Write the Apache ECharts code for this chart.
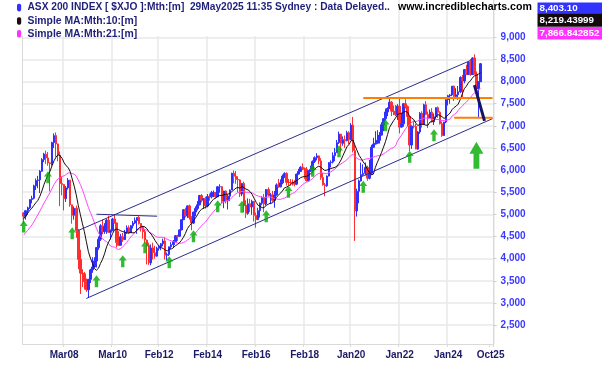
<!DOCTYPE html>
<html><head><meta charset="utf-8">
<script src="https://cdn.jsdelivr.net/npm/echarts@6/dist/echarts.min.js"></script>
<style>html,body{margin:0;padding:0;background:#fff}#c{width:602px;height:365px}</style>
</head><body><div id="c"></div>
<script>
// Monthly OHLC rows [open, high, low, close], ASX 200 ($XJO)
const y2006 = [[5033,5050,4790,4960],[4960,5100,4880,5082],[5082,5175,4990,5147],[5147,5340,5120,5336],[5336,5420,5250,5363],[5363,5670,5340,5644]];
const y2007 = [[5644,5810,5550,5763],[5763,5870,5590,5779],[5779,6000,5480,5975],[5975,6270,5960,6238],[6238,6390,6180,6360],[6360,6440,6140,6274],[6274,6410,6100,6164],[6164,6180,5520,6149],[6149,6640,6100,6624],[6624,6830,6500,6779],[6779,6851,6300,6591],[6591,6600,6200,6339]];
const y2008 = [[6339,6420,5186,5697],[5697,5850,5430,5673],[5673,5680,5090,5355],[5355,5640,5280,5598],[5598,5820,5560,5773],[5773,5780,5170,5215],[5215,5220,4790,4979],[4979,5180,4880,5138],[5138,5200,4470,4631],[4631,4670,3760,3983],[3983,4200,3201,3672],[3672,3760,3360,3659]];
const y2009 = [[3659,3700,3300,3478],[3478,3550,3250,3296],[3296,3540,3121,3532],[3532,3770,3450,3745],[3745,4030,3680,3813],[3813,4030,3800,3947],[3947,4250,3800,4249],[4249,4500,4200,4439],[4439,4780,4400,4740],[4740,4880,4550,4612],[4612,4800,4560,4715],[4715,4900,4560,4870]];
const y2010 = [[4870,4970,4590,4596],[4596,4660,4430,4631],[4631,4920,4630,4893],[4893,5000,4790,4807],[4807,4810,4250,4367],[4367,4620,4300,4301],[4301,4560,4300,4493],[4493,4580,4380,4428],[4428,4650,4420,4598],[4598,4750,4560,4697],[4697,4750,4560,4584],[4584,4760,4580,4745]];
const y2011 = [[4745,4850,4680,4803],[4803,4930,4780,4862],[4862,4930,4560,4929],[4929,4980,4770,4791],[4791,4800,4610,4706],[4706,4740,4450,4608],[4608,4660,4350,4419],[4419,4430,3870,4297],[4297,4360,3860,3903],[3903,4320,3850,4242],[4242,4360,3980,4132],[4132,4290,4000,4057]];
const y2012 = [[4057,4270,4040,4233],[4233,4300,4180,4269],[4269,4350,4190,4335],[4335,4450,4280,4396],[4396,4480,3980,4077],[4077,4140,3960,4095],[4095,4270,4060,4268],[4268,4370,4220,4316],[4316,4420,4240,4387],[4387,4530,4370,4517],[4517,4540,4400,4506],[4506,4660,4490,4649]];
const y2013 = [[4649,4880,4640,4879],[4879,5120,4870,5104],[5104,5150,4930,4967],[4967,5200,4920,5191],[5191,5220,4880,4926],[4926,4960,4640,4803],[4803,5060,4780,5052],[5052,5180,4960,5135],[5135,5300,5090,5218],[5218,5440,5200,5426],[5426,5460,5270,5321],[5321,5370,5120,5352]];
const y2014 = [[5352,5400,5130,5190],[5190,5460,5160,5404],[5404,5470,5310,5395],[5395,5530,5360,5489],[5489,5540,5390,5492],[5492,5500,5360,5396],[5396,5640,5390,5623],[5623,5680,5490,5625],[5625,5640,5250,5292],[5292,5530,5140,5527],[5527,5540,5250,5313],[5313,5450,5110,5411]];
const y2015 = [[5411,5560,5300,5551],[5551,5940,5550,5929],[5929,5990,5700,5861],[5861,5980,5690,5790],[5790,5860,5500,5777],[5777,5790,5390,5459],[5459,5710,5410,5699],[5699,5740,5050,5207],[5207,5320,4920,5021],[5021,5360,4990,5239],[5239,5350,5050,5166],[5166,5330,4990,5296]];
const y2016 = [[5296,5300,4840,4977],[4977,5040,4700,4881],[4881,5150,4870,5083],[5083,5270,4930,5252],[5252,5410,5210,5378],[5378,5460,5050,5233],[5233,5570,5200,5562],[5562,5610,5400,5433],[5433,5480,5230,5436],[5436,5530,5280,5317],[5317,5530,5150,5440],[5440,5700,5420,5665]];
const y2017 = [[5665,5800,5600,5621],[5621,5790,5610,5712],[5712,5900,5680,5864],[5864,5950,5820,5924],[5924,5950,5650,5724],[5724,5800,5650,5721],[5721,5800,5650,5720],[5720,5790,5650,5715],[5715,5770,5630,5682],[5682,5920,5660,5909],[5909,6030,5900,5970],[5970,6090,5960,6065]];
const y2018 = [[6065,6150,6000,6037],[6037,6060,5800,6016],[6016,6070,5740,5759],[5759,6000,5740,5982],[5982,6100,5960,6012],[6012,6220,5960,6195],[6195,6310,6160,6280],[6280,6380,6220,6320],[6320,6330,6130,6208],[6208,6270,5780,5830],[5830,5940,5650,5667],[5667,5710,5410,5646]];
const y2019 = [[5646,5880,5620,5865],[5865,6180,5860,6169],[6169,6220,6060,6181],[6181,6400,6150,6326],[6326,6500,6200,6396],[6396,6680,6390,6619],[6619,6870,6590,6813],[6813,6820,6400,6604],[6604,6760,6550,6688],[6688,6780,6500,6663],[6663,6890,6650,6846],[6846,6880,6580,6684]];
const y2020 = [[6684,7060,6680,7017],[7017,7200,6400,6441],[6441,6560,4400,5077],[5077,5580,4950,5522],[5522,5790,5250,5756],[5756,6170,5740,5898],[5898,6130,5870,5928],[5928,6170,5880,6061],[6061,6100,5760,5816],[5816,6230,5790,5928],[5928,6570,5890,6517],[6517,6730,6510,6587]];
const y2021 = [[6587,6880,6580,6607],[6607,6900,6600,6673],[6673,6860,6600,6791],[6791,7080,6780,7025],[7025,7170,6880,7162],[7162,7390,7120,7313],[7313,7420,7220,7393],[7393,7630,7380,7535],[7535,7560,7220,7332],[7332,7460,7240,7324],[7324,7470,7220,7256],[7256,7490,7130,7445]];
const y2022 = [[7445,7630,6830,6971],[6971,7300,6960,7049],[7049,7510,6980,7499],[7499,7600,7390,7435],[7435,7460,6990,7211],[7211,7220,6430,6568],[6568,7010,6480,6993],[6993,7120,6940,6987],[6987,7040,6470,6474],[6474,6880,6460,6863],[6863,7310,6820,7284],[7284,7330,6960,7038]];
const y2023 = [[7038,7500,7030,7476],[7476,7560,7240,7258],[7258,7320,6950,7178],[7178,7370,7170,7309],[7309,7400,7080,7091],[7091,7280,7020,7203],[7203,7420,7170,7410],[7410,7440,7180,7305],[7305,7330,7030,7048],[7048,7100,6750,6781],[6781,7090,6770,7087],[7087,7600,7060,7590]];
const y2024 = [[7590,7700,7460,7680],[7680,7720,7500,7699],[7699,7900,7670,7897],[7897,7910,7560,7664],[7664,7850,7620,7702],[7702,7900,7590,7768],[7768,8120,7740,8092],[8092,8150,7630,8015],[8015,8280,7960,8270],[8270,8380,8150,8160],[8160,8450,8150,8436],[8436,8510,8130,8159]];
const y2025 = [[8159,8550,8150,8532],[8532,8615,8160,8172],[8172,8230,7740,7843],[7843,8010,7169,7997],[7997,8420,7990,8403]];

// Monthly closes before Jul 2006 (Oct 2004 - Jun 2006), used for the moving averages
const priorCloses = [3780,3930,4050,4100,4150,4110,3990,4110,4270,4390,4430,4640,4420,4550,4710,4880,5010,5160,5250,5020,5050];

// x axis: months Jul 2006 .. Nov 2025
const startYear = 2006, startMonth = 7, monthCount = 233;
const tickIdx  = [20, 44, 67, 91, 115, 139, 162, 186, 210, 231];
const tickText = ['Mar08','Mar10','Feb12','Feb14','Feb16','Feb18','Jan20','Jan22','Jan24','Oct25'];
const yTicks = [2500,3000,3500,4000,4500,5000,5500,6000,6500,7000,7500,8000,8500,9000];

// annotations (month index, value)
const channelUpper = [[27, 4636], [221, 8475]];
const channelLower = [[31, 3100], [232, 7163]];
const line2010     = [[36, 5003], [66, 4958]];
const orangeUpper  = [[168, 7630], [232, 7630]];
const orangeLower  = [[213, 7180], [232, 7180]];
const projection   = [[223, 7918], [228, 7110]];
const arrowIdx = [0, 12, 24, 36, 49, 60, 72, 84, 96, 108, 120, 131, 143, 156, 168, 179, 191, 203];
const arrowVal = [4723, 5841, 4576, 3491, 3942, 4259, 3920, 4508, 5186, 5174, 4960, 5513, 5988, 6428, 5626, 7016, 6304, 6790];
const bigArrow = [224, 6338];

const rows = [].concat(y2006,y2007,y2008,y2009,y2010,y2011,y2012,y2013,y2014,y2015,y2016,y2017,y2018,y2019,y2020,y2021,y2022,y2023,y2024,y2025);
const categories = [];
for (let i = 0; i < monthCount; i++) {
  const m = startMonth - 1 + i;
  categories.push((startYear + Math.floor(m / 12)) + '-' + String(m % 12 + 1).padStart(2, '0'));
}
const candles = rows.map(r => [r[0], r[3], r[2], r[1]]);
const allCloses = priorCloses.concat(rows.map(r => r[3]));
function sma(n) {
  const out = [];
  for (let i = 0; i < rows.length; i++) {
    const j = i + priorCloses.length;
    let s = 0;
    for (let k = j - n + 1; k <= j; k++) s += allCloses[k];
    out.push(+(s / n).toFixed(2));
  }
  return out;
}
const ma10 = sma(10), ma21 = sma(21);

const FONT = 'Liberation Sans, Arial, sans-serif';
const arrowPath = 'path://M5,0 L10,5.4 L7.1,5.4 L7.1,12 L2.9,12 L2.9,5.4 L0,5.4 Z';
const navy = '#1f1f7a';

const chart = echarts.init(document.getElementById('c'));
const lineSeries = (data, color, width, z) => ({
  type: 'line', data: data, symbol: 'none', silent: true, z: z || 3,
  lineStyle: { color: color, width: width }, animation: false
});
chart.setOption({
  animation: false,
  backgroundColor: '#fff',
  grid: { left: 22.7, right: 108.4, top: 0, bottom: 21, containLabel: false },
  xAxis: {
    type: 'category', data: categories, boundaryGap: true,
    axisLine: { show: true, lineStyle: { color: '#d9d9d9', width: 1 } },
    axisTick: { show: true, interval: (i) => tickIdx.includes(i), length: 3, lineStyle: { color: '#d9d9d9' } },
    axisLabel: {
      interval: (i) => tickIdx.includes(i),
      formatter: (v, i) => tickText[tickIdx.indexOf(i)] || '',
      color: '#1a1a66', fontWeight: 'bold', fontSize: 10, fontFamily: FONT, margin: 6
    },
    splitLine: { show: true, interval: (i) => tickIdx.includes(i) && i !== 231, lineStyle: { color: '#e8e8e8', width: 1.5 } }
  },
  yAxis: [{
    type: 'value', position: 'right', min: 2071, max: 9843, scale: true,
    axisLine: { show: true, lineStyle: { color: '#d9d9d9', width: 1 } },
    axisTick: { show: true, length: 3, customValues: yTicks, lineStyle: { color: '#cfcfcf' } },
    axisLabel: { customValues: yTicks, margin: 7, color: '#3a3aff', fontWeight: 'bold', fontSize: 10, fontFamily: FONT,
      formatter: (v) => v.toLocaleString('en-US') },
    splitLine: { show: true, lineStyle: { color: '#e8e8e8', width: 1.5 } }
  }, {
    type: 'value', position: 'left', min: 2071, max: 9843,
    axisLine: { show: true, lineStyle: { color: '#d9d9d9', width: 1 } },
    axisTick: { show: false }, axisLabel: { show: false }, splitLine: { show: false }
  }],
  series: [
    {
      type: 'candlestick', data: candles, barWidth: 2, z: 2,
      itemStyle: { color: '#2f2fff', color0: '#ff2f2f', borderColor: '#2f2fff', borderColor0: '#ff2f2f', borderWidth: 1 }
    },
    lineSeries(ma21, '#ff44ff', 1, 3),
    lineSeries(ma10, '#1a0c10', 1, 4),
    lineSeries(channelUpper, '#2c2c8c', 1, 5),
    lineSeries(channelLower, '#2c2c8c', 1, 5),
    lineSeries(line2010, '#2c2c8c', 1, 5),
    lineSeries(orangeUpper, '#ff8000', 2, 6),
    lineSeries(orangeLower, '#ff8000', 2, 6),
    lineSeries(projection, '#141464', 3, 7),
    {
      type: 'scatter', z: 8, silent: true,
      data: arrowIdx.map((x, i) => [x, arrowVal[i]]),
      symbol: arrowPath, symbolSize: [8, 12], symbolKeepAspect: false,
      itemStyle: { color: '#00aa00' }
    },
    {
      type: 'scatter', z: 8, silent: true,
      data: [bigArrow],
      symbol: arrowPath, symbolSize: [14, 27], symbolKeepAspect: false,
      itemStyle: { color: '#00aa00' }
    }
  ],
  graphic: [
    { type: 'rect', z: 50, shape: { x: 0, y: 0, width: 392, height: 36 }, style: { fill: '#fff' } },
    { type: 'rect', z: 51, shape: { x: 17, y: 3.8, width: 4.2, height: 7.6, r: 1.8 }, style: { fill: '#3333ff' } },
    { type: 'rect', z: 51, shape: { x: 17, y: 17.2, width: 4.2, height: 7.6, r: 1.8 }, style: { fill: '#1a0c10' } },
    { type: 'rect', z: 51, shape: { x: 17, y: 30, width: 4.2, height: 7.6, r: 1.8 }, style: { fill: '#ff33ff' } },
    { type: 'text', z: 51, x: 27.5, y: 7.5, style: { text: 'ASX 200 INDEX [ $XJO ]:Mth:[m]  29May2025 11:35 Sydney : Data Delayed..', fill: navy, font: 'bold 10.2px ' + FONT, verticalAlign: 'middle' } },
    { type: 'text', z: 51, x: 27.5, y: 21, style: { text: 'Simple MA:Mth:10:[m]', fill: navy, font: 'bold 10.4px ' + FONT, verticalAlign: 'middle' } },
    { type: 'text', z: 51, x: 27.5, y: 34, style: { text: 'Simple MA:Mth:21:[m]', fill: navy, font: 'bold 10.4px ' + FONT, verticalAlign: 'middle' } },
    { type: 'text', z: 51, x: 398, y: 7.5, style: { text: 'www.incrediblecharts.com', fill: '#000', font: 'bold 10.6px ' + FONT, verticalAlign: 'middle' } },
    { type: 'rect', z: 51, shape: { x: 537.5, y: 2.5, width: 64.5, height: 10.8 }, style: { fill: '#3333ff' } },
    { type: 'rect', z: 51, shape: { x: 537.5, y: 13.3, width: 64.5, height: 13.4 }, style: { fill: '#140a0e' } },
    { type: 'rect', z: 51, shape: { x: 537.5, y: 26.9, width: 64.5, height: 12.6 }, style: { fill: '#ff33ff' } },
    { type: 'text', z: 52, x: 539.5, y: 8, style: { text: '8,403.10', fill: '#fff', font: 'bold 9.8px ' + FONT, verticalAlign: 'middle' } },
    { type: 'text', z: 52, x: 539.5, y: 20.2, style: { text: '8,219.43999', fill: '#fff', font: 'bold 9.8px ' + FONT, verticalAlign: 'middle' } },
    { type: 'text', z: 52, x: 539.5, y: 33.3, style: { text: '7,866.842852', fill: '#fff', font: 'bold 9.8px ' + FONT, verticalAlign: 'middle' } }
  ]
});
</script>
</body></html>
